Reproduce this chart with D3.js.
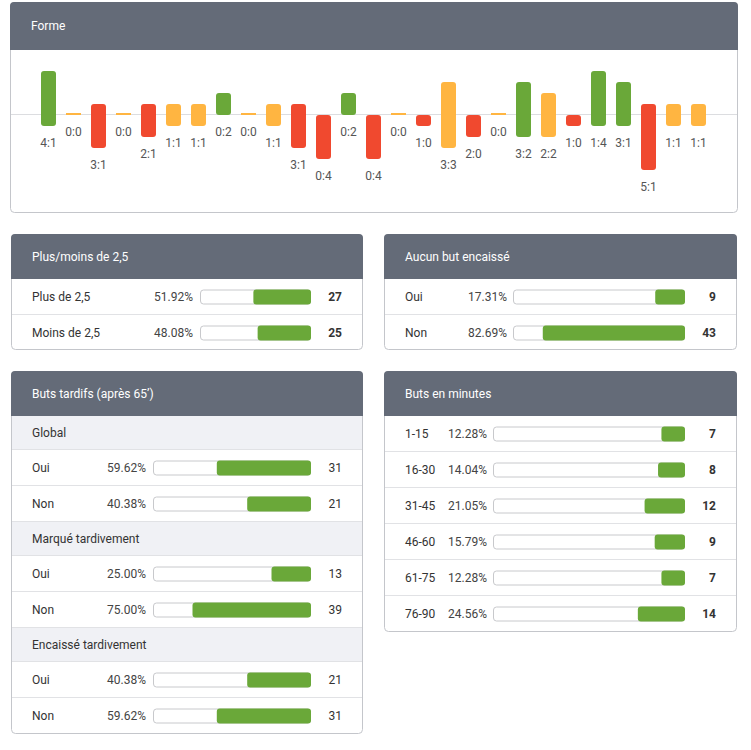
<!DOCTYPE html>
<html lang="fr">
<head>
  <meta charset="UTF-8">
  <title>Forme</title>
  <style>
    body { margin: 0; background: #fff; }
    text { font-family: Roboto, "Noto Sans", sans-serif; }
  </style>
</head>
<body>
  <script src="https://d3js.org/d3.v7.min.js"></script>
  <script>

    // Forme : score, buts marqués, buts encaissés
    const scores = ['4:1','0:0','3:1','0:0','2:1','1:1','1:1','0:2','0:0','1:1','3:1','0:4','0:2','0:4','0:0','1:0','3:3','2:0','0:0','3:2','2:2','1:0','1:4','3:1','5:1','1:1','1:1']
    const goalsFor = [4,0,1,0,1,1,1,2,0,1,1,0,2,0,0,0,3,0,0,3,2,0,4,3,1,1,1]
    const goalsAgainst = [1,0,3,0,2,1,1,0,0,1,3,4,0,4,0,1,3,2,0,2,2,1,1,1,5,1,1]

    // Plus/moins de 2,5
    const ouLabels = ['Plus de 2,5', 'Moins de 2,5']
    const ouPct = [51.92, 48.08]
    const ouCount = [27, 25]

    // Aucun but encaissé
    const csLabels = ['Oui', 'Non']
    const csPct = [17.31, 82.69]
    const csCount = [9, 43]

    // Buts tardifs
    const lateGroups = ['Global', 'Marqué tardivement', 'Encaissé tardivement']
    const lateLabels = ['Oui', 'Non']
    const latePct = [[59.62, 40.38], [25.00, 75.00], [40.38, 59.62]]
    const lateCount = [[31, 21], [13, 39], [21, 31]]

    // Buts en minutes
    const minLabels = ['1-15', '16-30', '31-45', '46-60', '61-75', '76-90']
    const minPct = [12.28, 14.04, 21.05, 15.79, 12.28, 24.56]
    const minCount = [7, 8, 12, 9, 7, 14]

    const HEAD = '#646b78'
    const GREEN = '#6aa839'
    const ORANGE = '#ffb541'
    const RED = '#f0492f'
    const BORDER = '#c4c6cb'
    const LINE = '#e1e2e5'

    const svg = d3.select('body')
      .append('svg')
      .attr('width', 751)
      .attr('height', 750)

    function panel(x, y, w, h, title, hh) {
      const g = svg.append('g').attr('transform', `translate(${x}, ${y})`)
      g.append('rect')
        .attr('x', 0.5).attr('y', 0.5)
        .attr('width', w - 1).attr('height', h - 1)
        .attr('rx', 4)
        .attr('fill', '#fff')
        .attr('stroke', BORDER)
      g.append('rect')
        .attr('width', w).attr('height', hh)
        .attr('rx', 4)
        .attr('fill', HEAD)
      g.append('rect')
        .attr('y', hh - 6).attr('width', w).attr('height', 6)
        .attr('fill', HEAD)
      g.append('text')
        .attr('x', 21).attr('y', hh / 2)
        .attr('dy', '0.35em')
        .attr('fill', '#fff')
        .attr('font-size', 12)
        .text(title)
      return g
    }

    // rows: [{type:'sub', label} | {type:'row', label, pct, count}]
    function rows(g, w, items, opt) {
      const bar = d3.scaleLinear().domain([0, 100]).range([0, opt.barW])
      const y0 = 45
      let y = y0
      items.forEach(d => {
        const h = d.type === 'sub' ? 34 : 36
        if (d.type === 'sub') {
          g.append('rect')
            .attr('x', 1).attr('y', y)
            .attr('width', w - 2).attr('height', h)
            .attr('fill', '#f0f1f5')
        }
        if (y > y0) {
          g.append('line')
            .attr('x1', 1).attr('x2', w - 1)
            .attr('y1', y - 0.5).attr('y2', y - 0.5)
            .attr('stroke', LINE)
        }
        const cy = y + h / 2
        g.append('text')
          .attr('x', 21).attr('y', cy).attr('dy', '0.35em')
          .attr('fill', '#333').attr('font-size', 12)
          .text(d.label)
        if (d.type === 'row') {
          g.append('text')
            .attr('x', opt.pctX).attr('y', cy).attr('dy', '0.35em')
            .attr('text-anchor', 'end')
            .attr('fill', '#444').attr('font-size', 12)
            .text(d.pct.toFixed(2) + '%')
          g.append('rect')
            .attr('x', opt.barX + 0.5).attr('y', cy - 7.5 + 0.5)
            .attr('width', opt.barW - 1).attr('height', 14)
            .attr('rx', 3)
            .attr('fill', '#fff').attr('stroke', '#c8c9cc')
          g.append('rect')
            .attr('x', opt.barX + opt.barW - bar(d.pct)).attr('y', cy - 7.5)
            .attr('width', bar(d.pct)).attr('height', 15)
            .attr('rx', 3)
            .attr('fill', GREEN)
          g.append('text')
            .attr('x', opt.countX).attr('y', cy).attr('dy', '0.35em')
            .attr('text-anchor', 'end')
            .attr('fill', '#333').attr('font-size', 12)
            .attr('font-weight', opt.bold ? 'bold' : 'normal')
            .text(d.count)
        }
        y += h
      })
    }

    // ---- Forme ----
    const forme = panel(10, 2, 728, 211, 'Forme', 48)
    const base = 113
    const xb = d3.scaleBand()
      .domain(scores.map((d, i) => i))
      .range([26, 701])
      .paddingInner(0.4)
      .paddingOuter(0.2)
    const yg = d3.scaleLinear().domain([0, 1]).range([0, 11])

    forme.append('line')
      .attr('x1', 1).attr('x2', 727)
      .attr('y1', base - 0.5).attr('y2', base - 0.5)
      .attr('stroke', '#dcdde0')

    const isNil = i => goalsFor[i] + goalsAgainst[i] === 0
    const color = i => goalsFor[i] > goalsAgainst[i] ? GREEN
      : goalsFor[i] < goalsAgainst[i] ? RED : ORANGE
    const barTop = i => isNil(i) ? base - 2 : base - yg(goalsFor[i])
    const barBottom = i => isNil(i) ? base : base + yg(goalsAgainst[i])

    forme.append('g')
      .selectAll('rect')
      .data(scores)
      .join('rect')
      .attr('x', (d, i) => xb(i))
      .attr('y', (d, i) => barTop(i))
      .attr('width', xb.bandwidth())
      .attr('height', (d, i) => barBottom(i) - barTop(i))
      .attr('rx', (d, i) => isNil(i) ? 0 : 3)
      .attr('fill', (d, i) => color(i))

    forme.append('g')
      .selectAll('text')
      .data(scores)
      .join('text')
      .attr('x', (d, i) => xb(i) + xb.bandwidth() / 2)
      .attr('y', (d, i) => barBottom(i) + 17)
      .attr('dy', '0.35em')
      .attr('text-anchor', 'middle')
      .attr('fill', '#555')
      .attr('font-size', 12)
      .text(d => d)

    // ---- Plus/moins de 2,5 ----
    const ou = panel(11, 234, 352, 116, 'Plus/moins de 2,5', 45)
    rows(ou, 352, ouLabels.map((l, i) => ({ type: 'row', label: l, pct: ouPct[i], count: ouCount[i] })),
      { pctX: 182, barX: 189, barW: 111, countX: 331, bold: true })

    // ---- Aucun but encaissé ----
    const cs = panel(384, 234, 353, 116, 'Aucun but encaissé', 45)
    rows(cs, 353, csLabels.map((l, i) => ({ type: 'row', label: l, pct: csPct[i], count: csCount[i] })),
      { pctX: 123, barX: 129, barW: 172, countX: 332, bold: true })

    // ---- Buts tardifs ----
    const lateItems = []
    lateGroups.forEach((grp, gi) => {
      lateItems.push({ type: 'sub', label: grp })
      lateLabels.forEach((l, i) => lateItems.push({ type: 'row', label: l, pct: latePct[gi][i], count: lateCount[gi][i] }))
    })
    const late = panel(11, 371, 352, 363, 'Buts tardifs (après 65\u2019)', 45)
    rows(late, 352, lateItems, { pctX: 135, barX: 142, barW: 158, countX: 331, bold: false })

    // ---- Buts en minutes ----
    const mins = panel(384, 371, 353, 261, 'Buts en minutes', 45)
    rows(mins, 353, minLabels.map((l, i) => ({ type: 'row', label: l, pct: minPct[i], count: minCount[i] })),
      { pctX: 103, barX: 109, barW: 192, countX: 332, bold: true })

  </script>
</body>
</html>
